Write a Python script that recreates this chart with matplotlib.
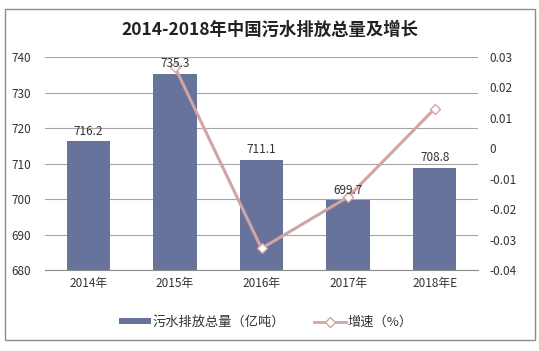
import matplotlib
matplotlib.use("Agg")
import matplotlib.pyplot as plt
from matplotlib.patches import Rectangle
from matplotlib.lines import Line2D
from matplotlib.patches import Patch

plt.rcParams['font.family'] = ['Noto Sans CJK SC', 'DejaVu Sans']

categories = ["2014年", "2015年", "2016年", "2017年", "2018年E"]
volume = [716.2, 735.3, 711.1, 699.7, 708.8]
growth = [None, 0.0267, -0.0329, -0.0160, 0.0130]
left_ticks = [680, 690, 700, 710, 720, 730, 740]
right_ticks = [-0.04, -0.03, -0.02, -0.01, 0, 0.01, 0.02, 0.03]
right_labels = ["-0.04", "-0.03", "-0.02", "-0.01", "0", "0.01", "0.02", "0.03"]

bar_color = "#67739A"
line_color = "#D3A4A4"
grid_color = "#A6A6A6"
text_color = "#333333"

fig = plt.figure(figsize=(5.39, 3.51), dpi=100)
fig.patches.append(Rectangle((5/539, 1-340/351), 530/539, 331/351, transform=fig.transFigure,
                             fill=False, edgecolor="#8C8C8C", linewidth=1.0))

ax = fig.add_axes([45/539, 1-270/351, 433/539, 213/351])
x = list(range(len(categories)))
ax.bar(x, volume, width=0.5, color=bar_color, zorder=2)
ax.set_ylim(680, 740)
ax.set_xlim(-0.5, len(categories)-0.5)
ax.set_yticks(left_ticks)
ax.set_yticklabels([str(v) for v in left_ticks], fontsize=8.5, color=text_color)
ax.set_xticks(x)
ax.set_xticklabels(categories, fontsize=8.5, color=text_color)
ax.tick_params(axis='y', length=0, pad=10)
ax.tick_params(axis='x', length=0, pad=5)
ax.grid(axis='y', color=grid_color, linewidth=0.8, zorder=0)
for s in ["top", "right", "left"]:
    ax.spines[s].set_visible(False)
ax.spines["bottom"].set_color("#8C8C8C")

ax2 = ax.twinx()
gx = [xi for xi, g in zip(x, growth) if g is not None]
gy = [g for g in growth if g is not None]
ax2.plot(gx, gy, color=line_color, linewidth=2.2, marker='D', markersize=5.5,
         markerfacecolor='white', markeredgecolor=line_color, markeredgewidth=1.0, zorder=4)
ax2.set_ylim(-0.04, 0.03)
ax2.set_yticks(right_ticks)
ax2.set_yticklabels(right_labels, fontsize=8.5, color=text_color)
ax2.tick_params(axis='y', length=0, pad=8)
for s in ["top", "right", "left", "bottom"]:
    ax2.spines[s].set_visible(False)

for xi, v in zip(x, volume):
    ax2.text(xi, v + 1.0, f"{v}", ha='center', va='bottom', fontsize=8.5, color=text_color,
             zorder=6, transform=ax.transData)

fig.text(0.5, 1-30/351, "2014-2018年中国污水排放总量及增长", ha='center', va='center',
         fontsize=12.5, fontweight='bold', color="#222222")

handles = [Patch(facecolor=bar_color, edgecolor='none'),
           Line2D([0], [0], color=line_color, linewidth=2, marker='D', markersize=5,
                  markerfacecolor='white', markeredgecolor=line_color)]
fig.legend(handles, ["污水排放总量（亿吨）", "增速（%）"], loc='center',
           bbox_to_anchor=(266/539, 1-322/351), ncol=2, frameon=False, fontsize=9.5,
           handlelength=2.4, handleheight=0.35, columnspacing=2.2, handletextpad=0.15,
           labelcolor=text_color)

fig.savefig("out.png", dpi=100)
